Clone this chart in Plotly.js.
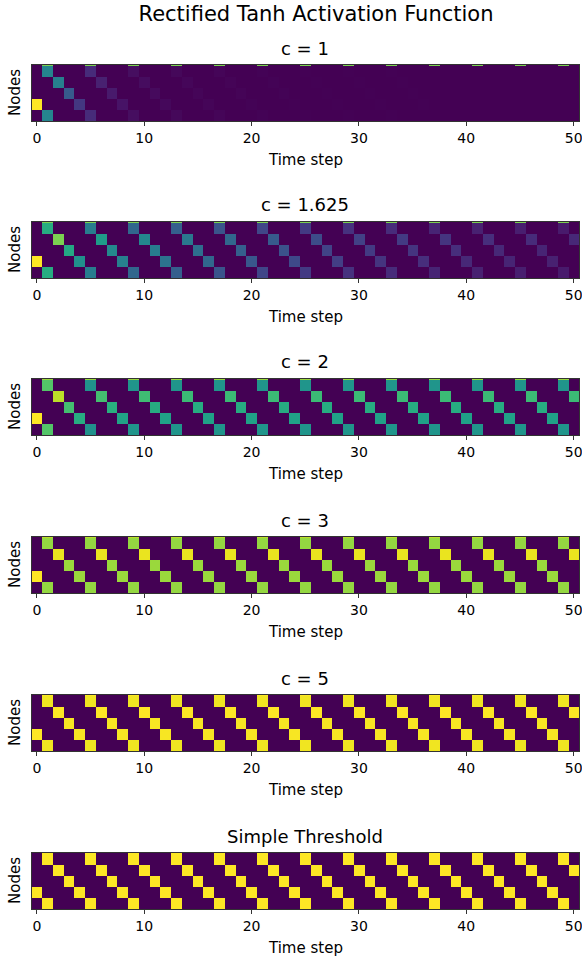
<!DOCTYPE html>
<html>
<head>
<meta charset="utf-8">
<script src="https://cdn.plot.ly/plotly-3.0.1.min.js"></script>
<style>html,body{margin:0;padding:0;background:#fff;}#chart{width:582px;height:962px;}</style>
</head>
<body>
<div id="chart"></div>
<script>
// ---------- data ----------
const mainTitle = 'Rectified Tanh Activation Function';
const panelTitles = ['c = 1', 'c = 1.625', 'c = 2', 'c = 3', 'c = 5', 'Simple Threshold'];
const timeSteps = [0,1,2,3,4,5,6,7,8,9,10,11,12,13,14,15,16,17,18,19,20,21,22,23,24,25,26,27,28,29,30,31,32,33,34,35,36,37,38,39,40,41,42,43,44,45,46,47,48,49,50];
const xTicks = [0, 10, 20, 30, 40, 50];
// visible node rows (top to bottom); -1 is the thin sliver of the row cut at the top
const nodeRows = [-1, 0, 1, 2, 3, 4];
// node row that fires at each time step
const litRow = [3,0,1,2,3,0,1,2,3,0, 1,2,3,0,1,2,3,0,1,2, 3,0,1,2,3,0,1,2,3,0, 1,2,3,0,1,2,3,0,1,2, 3,0,1,2,3,0,1,2,3,0, 1];
// node 0 is shown twice (top and bottom row)
const mirrorOf = {0: 4};
// value of the firing node at each time step, per panel
const pulseC1 = [1.00,0.45,0.43,0.28,0.16,0.12,0.09,0.07,0.05,0.035,
  0.03,0.025,0.02,0.018,0.015,0.012,0.010,0.010,0.008,0.008,
  0.006,0.006,0.005,0.005,0.004,0.004,0.004,0.003,0.003,0.003,
  0.003,0.002,0.002,0.002,0.002,0.002,0.002,0.001,0.001,0.001,
  0.001,0.001,0.001,0.001,0.001,0.001,0.001,0.001,0.001,0.001,
  0.001];
const pulseC1625 = [1.00,0.62,0.80,0.60,0.50,0.42,0.55,0.47,0.43,0.33,
  0.46,0.42,0.38,0.30,0.40,0.36,0.33,0.26,0.33,0.30,
  0.27,0.21,0.28,0.25,0.22,0.17,0.23,0.20,0.18,0.14,
  0.19,0.17,0.15,0.12,0.17,0.15,0.13,0.10,0.15,0.13,
  0.11,0.09,0.13,0.11,0.10,0.08,0.12,0.10,0.09,0.07,
  0.11];
const pulseC2 = [1.00,0.73,0.90,0.70,0.62,0.50,0.70,0.63,0.58,0.52,
  0.69,0.62,0.57,0.52,0.68,0.62,0.57,0.52,0.68,0.62,
  0.57,0.52,0.68,0.62,0.57,0.52,0.68,0.62,0.57,0.52,
  0.68,0.62,0.57,0.52,0.68,0.62,0.57,0.52,0.68,0.62,
  0.57,0.52,0.68,0.62,0.57,0.52,0.68,0.62,0.57,0.52,
  0.68];
const pulseC3 = [1.00,0.84,0.97,0.85,0.85,0.84,0.97,0.85,0.85,0.84,
  0.97,0.85,0.85,0.84,0.97,0.85,0.85,0.84,0.97,0.85,
  0.85,0.84,0.97,0.85,0.85,0.84,0.97,0.85,0.85,0.84,
  0.97,0.85,0.85,0.84,0.97,0.85,0.85,0.84,0.97,0.85,
  0.85,0.84,0.97,0.85,0.85,0.84,0.97,0.85,0.85,0.84,
  0.97];
const pulseC5 = [1.00,0.98,1.00,0.99,0.99,0.98,1.00,0.99,0.99,0.98,
  1.00,0.99,0.99,0.98,1.00,0.99,0.99,0.98,1.00,0.99,
  0.99,0.98,1.00,0.99,0.99,0.98,1.00,0.99,0.99,0.98,
  1.00,0.99,0.99,0.98,1.00,0.99,0.99,0.98,1.00,0.99,
  0.99,0.98,1.00,0.99,0.99,0.98,1.00,0.99,0.99,0.98,
  1.00];
const pulseThreshold = [1,1,1,1,1,1,1,1,1,1, 1,1,1,1,1,1,1,1,1,1, 1,1,1,1,1,1,1,1,1,1, 1,1,1,1,1,1,1,1,1,1, 1,1,1,1,1,1,1,1,1,1, 1];
// value of the thin sliver row when node 0 fires
const sliverValue = [0.8, 0.8, 0.85, 0.9, 1, 1];
const pulses = [pulseC1, pulseC1625, pulseC2, pulseC3, pulseC5, pulseThreshold];

// ---------- layout geometry (pixels) ----------
const W = 582, H = 962;
const panelTops = [65, 222, 379, 537, 695, 853];
const panelH = 56;
const plotLeft = 31.5, plotRight = 579;
const FONT = 'DejaVu Sans';

function buildZ(pulse, sliver) {
  const z = nodeRows.map(() => timeSteps.map(() => 0));
  timeSteps.forEach((t, j) => {
    const r = litRow[j];
    const v = pulse[j];
    z[nodeRows.indexOf(r)][j] = v;
    if (mirrorOf[r] !== undefined) {
      z[nodeRows.indexOf(mirrorOf[r])][j] = v;
      if (t > 0) z[nodeRows.indexOf(-1)][j] = sliver;
    }
  });
  return z;
}

const traces = [];
const layout = {
  width: W, height: H,
  margin: {l: 0, r: 0, t: 0, b: 0},
  paper_bgcolor: '#fff', plot_bgcolor: '#fff',
  showlegend: false,
  font: {family: FONT, color: '#000'},
  title: {text: mainTitle, x: 316 / W, xanchor: 'center', y: 1 - 14 / H, yanchor: 'middle', yref: 'paper',
          font: {family: FONT, size: 21, color: '#000'}},
  annotations: []
};

pulses.forEach((pulse, i) => {
  const n = i === 0 ? '' : String(i + 1);
  const top = panelTops[i];
  traces.push({
    type: 'heatmap',
    x: timeSteps, y: nodeRows, z: buildZ(pulse, sliverValue[i]),
    colorscale: 'Viridis', zmin: 0, zmax: 1, showscale: false,
    xaxis: 'x' + n, yaxis: 'y' + n, hoverinfo: 'skip'
  });
  layout['xaxis' + n] = {
    domain: [plotLeft / W, plotRight / W], anchor: 'y' + n,
    range: [-0.5, 50.5], tickvals: xTicks, ticktext: xTicks.map(String),
    ticks: 'outside', ticklen: 4, tickwidth: 1, tickcolor: '#333',
    tickfont: {family: FONT, size: 14, color: '#000'},
    ticklabeloverflow: 'allow',
    showline: true, mirror: true, linecolor: '#333', linewidth: 1,
    showgrid: false, zeroline: false, fixedrange: true, automargin: false
  };
  layout['yaxis' + n] = {
    domain: [1 - (top + panelH) / H, 1 - top / H], anchor: 'x' + n,
    range: [4.5, -0.6], showticklabels: false, ticks: '',
    showline: true, mirror: true, linecolor: '#333', linewidth: 1,
    showgrid: false, zeroline: false, fixedrange: true
  };
  layout.annotations.push({
    text: panelTitles[i], xref: 'paper', yref: 'paper',
    x: (plotLeft + plotRight) / 2 / W, y: 1 - (top - 17) / H,
    xanchor: 'center', yanchor: 'middle', showarrow: false,
    font: {family: FONT, size: 18, color: '#000'}
  });
  layout.annotations.push({
    text: 'Time step', xref: 'paper', yref: 'paper',
    x: (plotLeft + plotRight) / 2 / W, y: 1 - (top + 95) / H,
    xanchor: 'center', yanchor: 'middle', showarrow: false,
    font: {family: FONT, size: 15, color: '#000'}
  });
  layout.annotations.push({
    text: 'Nodes', xref: 'paper', yref: 'paper', textangle: -90,
    x: 15 / W, y: 1 - (top + panelH / 2) / H,
    xanchor: 'center', yanchor: 'middle', showarrow: false,
    font: {family: FONT, size: 15, color: '#000'}
  });
});

Plotly.newPlot('chart', traces, layout, {staticPlot: true, displayModeBar: false});
</script>
</body>
</html>
